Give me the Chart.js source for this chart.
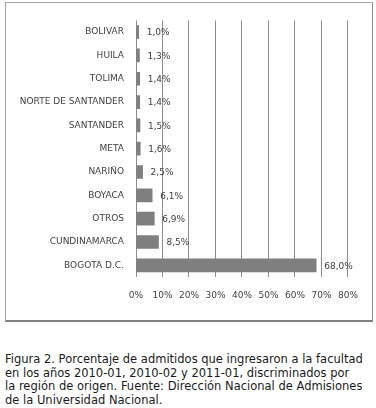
<!DOCTYPE html>
<html>
<head>
<meta charset="utf-8">
<script src="https://cdn.jsdelivr.net/npm/chart.js@4"></script>
<style>
  html, body { margin: 0; padding: 0; background: #fff; }
  body { width: 376px; height: 408px; position: relative; overflow: hidden; }
  #frame {
    position: absolute; left: 5px; top: 2px; width: 366px; height: 317px;
    border-left: 1px solid #a6a6a6; border-top: 1px solid #a6a6a6;
    border-right: 1px solid #8c8c8c; border-bottom: 2px solid #7f7f7f;
  }
  #chart-wrap { position: absolute; left: 6px; top: 3px; width: 365px; height: 317px; }
  #caption {
    position: absolute; left: 5px; top: 353px; width: 371px;
    font-family: "DejaVu Sans", sans-serif; font-size: 11.5px; line-height: 13.6px;
    color: #1a1a1a;
  }
  #caption div { white-space: nowrap; }
</style>
</head>
<body>
<div id="frame"></div>
<div id="chart-wrap"><canvas id="regiones-chart" width="365" height="317"></canvas></div>
<div id="caption">
  <div>Figura 2. Porcentaje de admitidos que ingresaron a la facultad</div>
  <div>en los años 2010-01, 2010-02 y 2011-01, discriminados por</div>
  <div>la región de origen. Fuente: Dirección Nacional de Admisiones</div>
  <div>de la Universidad Nacional.</div>
</div>
<script>
// --- DATOS ---
const regiones = ["BOLIVAR", "HUILA", "TOLIMA", "NORTE DE SANTANDER", "SANTANDER", "META",
  "NARIÑO", "BOYACA", "OTROS", "CUNDINAMARCA", "BOGOTA D.C."];
const porcentajes = [1.0, 1.3, 1.4, 1.4, 1.5, 1.6, 2.5, 6.1, 6.9, 8.5, 68.0];
const ticksX = [0, 10, 20, 30, 40, 50, 60, 70, 80];

// --- HELPERS ---
const formatPct = (v) => v.toFixed(1).replace(".", ",") + "%";
const FONT = "DejaVu Sans";

// etiquetas de valor a la derecha de cada barra
const valueLabels = {
  id: "valueLabels",
  afterDatasetsDraw(chart) {
    const { ctx } = chart;
    const meta = chart.getDatasetMeta(0);
    ctx.save();
    ctx.font = `9px "${FONT}"`;
    ctx.fillStyle = "#404040";
    ctx.textAlign = "left";
    ctx.textBaseline = "middle";
    meta.data.forEach((bar, i) => {
      ctx.fillText(formatPct(porcentajes[i]), bar.x + 8, bar.y + 1);
    });
    ctx.restore();
  }
};

const canvas = document.getElementById("regiones-chart");
new Chart(canvas.getContext("2d"), {
  type: "bar",
  data: {
    labels: regiones,
    datasets: [{
      data: porcentajes,
      backgroundColor: "#7f7f7f",
      borderWidth: 0,
      barThickness: 13
    }]
  },
  options: {
    indexAxis: "y",
    responsive: false,
    animation: false,
    layout: { padding: { top: 15, right: 22, left: 0, bottom: 0 } },
    plugins: { legend: { display: false }, tooltip: { enabled: false } },
    scales: {
      x: {
        min: 0,
        max: 80,
        afterBuildTicks: (scale) => { scale.ticks = ticksX.map((v) => ({ value: v })); },
        afterFit: (scale) => { scale.height = 43; },
        grid: { color: "#8c8c8c", lineWidth: 1, drawTicks: false },
        border: { display: false },
        ticks: {
          padding: 13,
          color: "#404040",
          font: { family: FONT, size: 9 },
          callback: (v) => v + "%"
        }
      },
      y: {
        afterFit: (scale) => { scale.width = 130; },
        grid: { display: false, drawTicks: false },
        border: { display: false },
        ticks: {
          padding: 12,
          color: "#404040",
          font: { family: FONT, size: 9 }
        }
      }
    }
  },
  plugins: [valueLabels]
});
</script>
</body>
</html>
